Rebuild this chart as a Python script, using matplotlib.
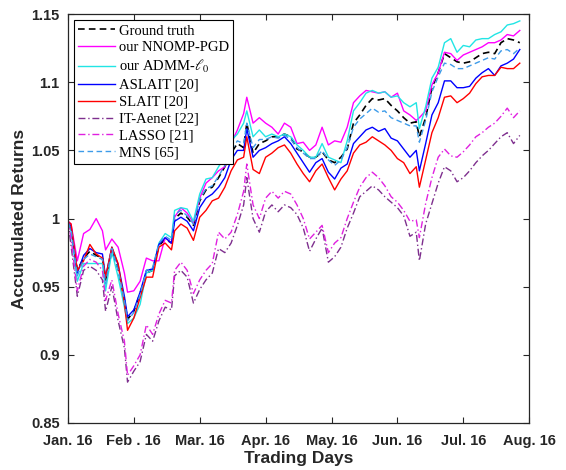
import numpy as np
import matplotlib
matplotlib.use("Agg")
import matplotlib.pyplot as plt

# trading-day index of each sample
days = [0, 1, 3, 5, 7, 9, 11, 12, 14, 16, 18, 19, 21, 23, 25, 27, 29, 31, 33, 34,
        36, 38, 40, 42, 44, 46, 48, 50, 52, 54, 56, 57, 59, 61, 63, 65, 67, 69, 71,
        73, 75, 77, 79, 81, 83, 85, 87, 89, 91, 93, 95, 97, 99, 101, 103, 105, 107, 109, 111,
        112, 114, 116, 118, 120, 122, 124, 126, 128, 130, 132, 134, 136, 138, 140, 142, 144]

ground_truth = [0.997, 0.993, 0.962, 0.971, 0.976, 0.973, 0.971, 0.955, 0.976, 0.963, 0.940, 0.926, 0.932, 0.945, 0.960, 0.962, 0.980, 0.985, 0.982, 1.000,
                1.004, 1.001, 0.995, 1.013, 1.021, 1.023, 1.030, 1.038, 1.048, 1.055, 1.052, 1.070, 1.048, 1.055, 1.057, 1.060, 1.060, 1.062, 1.060,
                1.051, 1.049, 1.045, 1.045, 1.049, 1.043, 1.041, 1.045, 1.051, 1.070, 1.076, 1.083, 1.088, 1.087, 1.088, 1.083, 1.079, 1.074, 1.070, 1.071,
                1.060, 1.074, 1.096, 1.107, 1.121, 1.118, 1.115, 1.114, 1.115, 1.118, 1.121, 1.122, 1.121, 1.129, 1.132, 1.131, 1.129]

nnomp_pgd = [0.998, 0.996, 0.969, 0.989, 0.992, 1.000, 0.991, 0.977, 0.985, 0.979, 0.960, 0.946, 0.947, 0.954, 0.971, 0.969, 0.969, 0.986, 0.982, 1.001,
             1.008, 1.004, 0.997, 1.015, 1.026, 1.030, 1.035, 1.038, 1.055, 1.065, 1.077, 1.089, 1.070, 1.074, 1.070, 1.067, 1.062, 1.070, 1.067,
             1.055, 1.056, 1.050, 1.054, 1.067, 1.054, 1.057, 1.056, 1.067, 1.085, 1.090, 1.094, 1.093, 1.092, 1.093, 1.089, 1.092, 1.079, 1.076, 1.072,
             1.074, 1.079, 1.098, 1.107, 1.122, 1.121, 1.116, 1.120, 1.122, 1.124, 1.126, 1.129, 1.129, 1.131, 1.135, 1.134, 1.138]

admm_l0 = [0.996, 0.991, 0.954, 0.967, 0.967, 0.967, 0.967, 0.947, 0.976, 0.957, 0.935, 0.923, 0.927, 0.937, 0.960, 0.962, 0.982, 0.989, 0.986, 1.006,
           1.008, 1.007, 0.998, 1.018, 1.029, 1.030, 1.038, 1.045, 1.057, 1.062, 1.070, 1.079, 1.060, 1.065, 1.060, 1.062, 1.060, 1.062, 1.060,
           1.054, 1.050, 1.045, 1.045, 1.055, 1.045, 1.043, 1.041, 1.057, 1.079, 1.085, 1.092, 1.094, 1.092, 1.093, 1.089, 1.090, 1.085, 1.082, 1.085,
           1.066, 1.082, 1.103, 1.111, 1.129, 1.132, 1.122, 1.127, 1.126, 1.131, 1.132, 1.132, 1.135, 1.137, 1.142, 1.143, 1.145]

aslait = [0.998, 0.994, 0.960, 0.973, 0.978, 0.975, 0.974, 0.957, 0.979, 0.966, 0.943, 0.928, 0.933, 0.946, 0.962, 0.963, 0.981, 0.986, 0.982, 0.998,
          1.001, 0.998, 0.991, 1.008, 1.015, 1.018, 1.023, 1.030, 1.043, 1.050, 1.050, 1.066, 1.045, 1.050, 1.052, 1.055, 1.057, 1.060, 1.055,
          1.048, 1.041, 1.034, 1.041, 1.044, 1.034, 1.029, 1.037, 1.040, 1.055, 1.060, 1.065, 1.067, 1.064, 1.066, 1.059, 1.057, 1.051, 1.045, 1.050,
          1.035, 1.055, 1.076, 1.085, 1.101, 1.101, 1.096, 1.096, 1.097, 1.103, 1.107, 1.110, 1.105, 1.112, 1.114, 1.117, 1.124]

slait = [0.998, 0.996, 0.962, 0.969, 0.981, 0.974, 0.971, 0.957, 0.979, 0.967, 0.938, 0.918, 0.927, 0.942, 0.957, 0.957, 0.979, 0.982, 0.977, 0.991,
         0.996, 0.993, 0.984, 1.001, 1.006, 1.013, 1.015, 1.023, 1.035, 1.043, 1.045, 1.060, 1.036, 1.033, 1.045, 1.048, 1.052, 1.054, 1.048,
         1.040, 1.033, 1.027, 1.035, 1.040, 1.030, 1.021, 1.029, 1.035, 1.048, 1.054, 1.056, 1.060, 1.057, 1.054, 1.050, 1.044, 1.041, 1.033, 1.038,
         1.023, 1.043, 1.063, 1.074, 1.089, 1.090, 1.085, 1.088, 1.092, 1.099, 1.104, 1.105, 1.105, 1.111, 1.110, 1.110, 1.114]

it_aenet = [0.998, 0.980, 0.943, 0.962, 0.965, 0.962, 0.955, 0.932, 0.950, 0.925, 0.905, 0.880, 0.888, 0.895, 0.915, 0.910, 0.925, 0.935, 0.933, 0.958,
            0.962, 0.957, 0.938, 0.948, 0.955, 0.960, 0.978, 0.975, 0.982, 0.995, 1.010, 1.030, 1.000, 0.990, 1.005, 1.010, 1.005, 1.010, 1.008,
            1.003, 0.993, 0.976, 0.985, 0.993, 0.968, 0.972, 0.979, 0.993, 1.004, 1.016, 1.020, 1.024, 1.021, 1.016, 1.012, 1.008, 1.002, 0.987, 0.990,
            0.969, 0.996, 1.011, 1.026, 1.038, 1.035, 1.027, 1.030, 1.035, 1.041, 1.046, 1.050, 1.055, 1.060, 1.063, 1.055, 1.061]

lasso = [1.000, 0.985, 0.947, 0.965, 0.970, 0.968, 0.962, 0.940, 0.955, 0.930, 0.910, 0.885, 0.892, 0.900, 0.922, 0.915, 0.930, 0.940, 0.938, 0.962,
         0.968, 0.962, 0.945, 0.955, 0.962, 0.967, 0.990, 0.985, 0.990, 1.003, 1.020, 1.040, 1.010, 1.000, 1.015, 1.020, 1.015, 1.020, 1.018,
         1.010, 1.000, 0.985, 0.990, 0.995, 0.975, 0.982, 0.986, 1.000, 1.012, 1.023, 1.030, 1.034, 1.030, 1.024, 1.016, 1.012, 1.006, 0.998, 0.999,
         0.986, 1.011, 1.030, 1.045, 1.051, 1.046, 1.045, 1.049, 1.054, 1.060, 1.063, 1.067, 1.070, 1.075, 1.081, 1.074, 1.079]

mns = [0.997, 0.992, 0.958, 0.970, 0.974, 0.972, 0.970, 0.952, 0.978, 0.962, 0.940, 0.925, 0.931, 0.944, 0.962, 0.964, 0.982, 0.987, 0.984, 1.003,
       1.006, 1.002, 0.996, 1.014, 1.022, 1.024, 1.031, 1.039, 1.050, 1.057, 1.055, 1.070, 1.052, 1.058, 1.058, 1.060, 1.059, 1.061, 1.058,
       1.052, 1.048, 1.044, 1.044, 1.050, 1.043, 1.039, 1.043, 1.052, 1.067, 1.073, 1.077, 1.081, 1.078, 1.079, 1.074, 1.072, 1.070, 1.068, 1.068,
       1.056, 1.072, 1.093, 1.104, 1.114, 1.113, 1.110, 1.110, 1.112, 1.114, 1.116, 1.118, 1.117, 1.123, 1.124, 1.121, 1.125]

month_ticks = [0, 21, 42, 63, 84, 105, 126, 147]
month_labels = ["Jan. 16", "Feb . 16", "Mar. 16", "Apr. 16", "May. 16", "Jun. 16", "Jul. 16", "Aug. 16"]
y_ticks = [0.85, 0.9, 0.95, 1.0, 1.05, 1.1, 1.15]
y_labels = ["0.85", "0.9", "0.95", "1", "1.05", "1.1", "1.15"]

plt.rcParams["mathtext.fontset"] = "stix"

fig = plt.figure(figsize=(5.66, 4.70), dpi=100)
ax = fig.add_axes([0.120, 0.100, 0.815, 0.870])

lw = 1.0
ax.plot(days, ground_truth, color="black", linestyle=(0, (4, 2.5)), lw=1.2, label="Ground truth")
ax.plot(days, nnomp_pgd, color="#FF00FF", lw=lw, label="our NNOMP-PGD")
ax.plot(days, admm_l0, color="#22E5E5", lw=lw, label=r"our ADMM-$\ell_0$")
ax.plot(days, aslait, color="#0000FF", lw=lw, label="ASLAIT [20]")
ax.plot(days, slait, color="#FF0000", lw=lw, label="SLAIT [20]")
ax.plot(days, it_aenet, color="#7E2F8E", linestyle=(0, (5, 2, 1, 2)), lw=lw, label="IT-Aenet [22]")
ax.plot(days, lasso, color="#E020E0", linestyle=(0, (5, 2, 1, 2)), lw=lw, label="LASSO [21]")
ax.plot(days, mns, color="#3D9BE9", linestyle=(0, (4, 2.5)), lw=lw, label="MNS [65]")

ax.set_xlim(0, 147)
ax.set_ylim(0.85, 1.15)
ax.set_xticks(month_ticks)
ax.set_xticklabels(month_labels)
ax.set_yticks(y_ticks)
ax.set_yticklabels(y_labels)

for lab in ax.get_xticklabels() + ax.get_yticklabels():
    lab.set_fontfamily("Liberation Sans")
    lab.set_fontweight("bold")
    lab.set_fontsize(10.5)
    lab.set_color("#262626")

ax.tick_params(direction="in", length=4, width=0.8, top=True, right=True, colors="#262626")
ax.tick_params(axis="x", pad=8)
ax.tick_params(axis="y", pad=6)
for s in ax.spines.values():
    s.set_color("#262626")
    s.set_linewidth(0.9)

ax.set_xlabel("Trading Days", fontfamily="Liberation Sans", fontweight="bold", fontsize=12.5, color="#262626", labelpad=2)
ax.set_ylabel("Accumulated Returns", fontfamily="Liberation Sans", fontweight="bold", fontsize=12.5, color="#262626", labelpad=3)

leg = ax.legend(loc="upper left", prop={"family": "Liberation Serif", "size": 10.5},
                frameon=True, fancybox=False, framealpha=1, edgecolor="black",
                handlelength=2.5, handletextpad=0.3, labelspacing=0.25,
                borderpad=0.3, borderaxespad=0.4)
leg.get_frame().set_linewidth(0.8)

fig.savefig("out.png", dpi=100)
